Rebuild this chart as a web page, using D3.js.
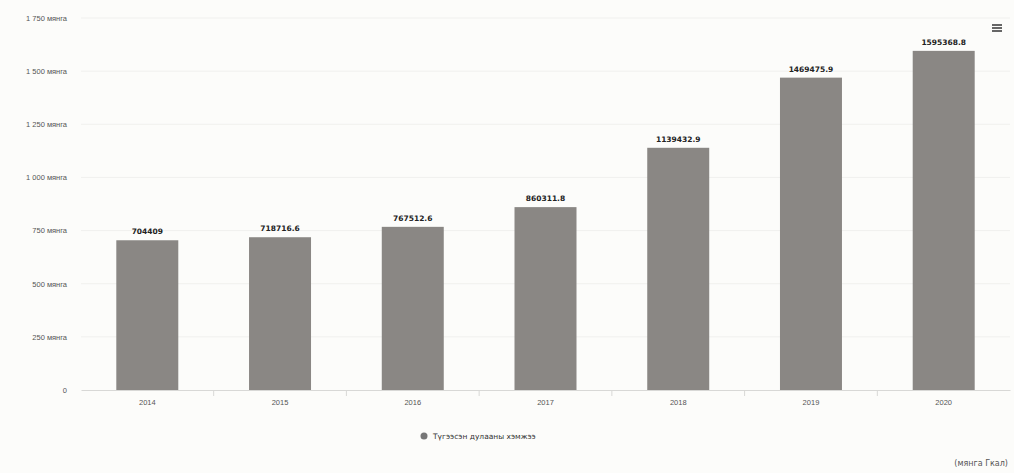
<!DOCTYPE html>
<html><head><meta charset="utf-8">
<script src="https://cdn.jsdelivr.net/npm/d3@7"></script>
<style>
html,body{margin:0;padding:0;background:#fcfcfa;}
svg{display:block;font-family:"DejaVu Sans",sans-serif;}
</style></head>
<body>
<svg id="chart" width="1014" height="473"></svg>
<script>
const categories = ["2014","2015","2016","2017","2018","2019","2020"];
const values = [704409, 718716.6, 767512.6, 860311.8, 1139432.9, 1469475.9, 1595368.8];
const valueLabels = ["704409","718716.6","767512.6","860311.8","1139432.9","1469475.9","1595368.8"];
const yTicks = [0, 250000, 500000, 750000, 1000000, 1250000, 1500000, 1750000];
const yTickLabels = ["0","250 мянга","500 мянга","750 мянга","1 000 мянга","1 250 мянга","1 500 мянга","1 750 мянга"];
const seriesName = "Түгээсэн дулааны хэмжээ";
const unitNote = "(мянга Гкал)";

const svg = d3.select("#chart");
const x = d3.scaleBand().domain(categories).range([81, 1010]).paddingInner(0.533).paddingOuter(0.266);
const y = d3.scaleLinear().domain([0, 1750000]).range([390, 18]);

// gridlines
svg.append("g").selectAll("line").data(yTicks.slice(1)).join("line")
  .attr("x1", 81).attr("x2", 1010)
  .attr("y1", d => y(d)).attr("y2", d => y(d))
  .attr("stroke", "#f0f0ee").attr("stroke-width", 1);

// y axis labels
const yAxis = d3.axisLeft(y).tickValues(yTicks).tickSize(0).tickFormat((d,i) => yTickLabels[i]);
const gy = svg.append("g").attr("transform", "translate(70,0)").call(yAxis);
gy.select(".domain").remove();
gy.selectAll("text").attr("font-size", 7.5).attr("fill", "#555").attr("dx", 0);

// x axis
const xAxis = d3.axisBottom(x).tickSize(0).tickPadding(10);
const gx = svg.append("g").attr("transform", "translate(0,390)").call(xAxis);
gx.select(".domain").attr("stroke", "#d8d8d6");
gx.selectAll("text").attr("font-size", 7.5).attr("fill", "#555");
// category boundary ticks
const bounds = categories.slice(1).map(c => x(c) - x.step() * x.paddingInner() / 2);
svg.append("g").selectAll("line").data(bounds).join("line")
  .attr("x1", d => d).attr("x2", d => d).attr("y1", 390).attr("y2", 396)
  .attr("stroke", "#d8d8d6");

// bars
svg.append("g").selectAll("rect").data(values).join("rect")
  .attr("x", (d,i) => x(categories[i]))
  .attr("y", d => y(d))
  .attr("width", x.bandwidth())
  .attr("height", d => y(0) - y(d))
  .attr("fill", "#8a8784");

// value labels
svg.append("g").selectAll("text").data(values).join("text")
  .attr("x", (d,i) => x(categories[i]) + x.bandwidth()/2)
  .attr("y", d => y(d) - 6)
  .attr("text-anchor", "middle")
  .attr("font-size", 7.5).attr("font-weight", "bold").attr("fill", "#222")
  .text((d,i) => valueLabels[i]);

// legend
const lg = svg.append("g").attr("transform", "translate(424,436)");
lg.append("circle").attr("r", 3.5).attr("fill", "#777");
lg.append("text").attr("x", 9).attr("y", 3).attr("font-size", 7.5).attr("fill", "#333").text(seriesName);

// menu icon
const menu = svg.append("g").attr("transform", "translate(992,24)");
[0,3,6].forEach(o => menu.append("rect").attr("x",0).attr("y",o).attr("width",10).attr("height",2).attr("fill","#666"));

// unit note (bottom right)
svg.append("text").attr("x", 1008).attr("y", 466).attr("text-anchor", "end")
  .attr("font-size", 8).attr("fill", "#555").text(unitNote);
</script>
</body></html>
